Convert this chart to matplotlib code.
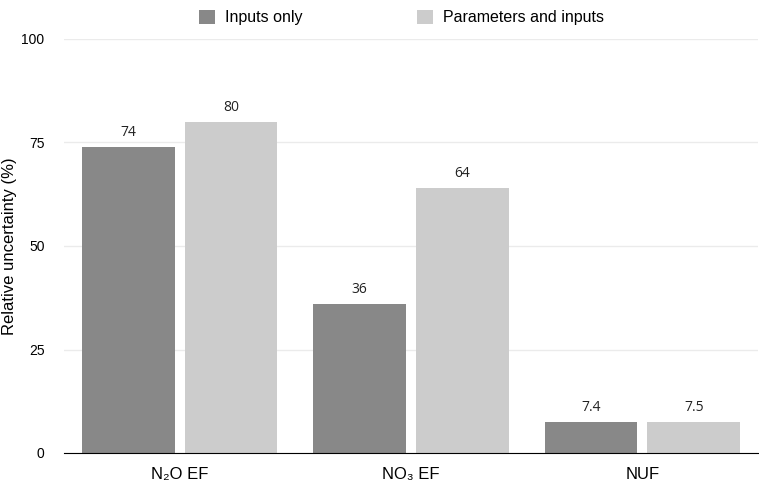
import matplotlib
matplotlib.use("Agg")
import matplotlib.pyplot as plt
import numpy as np

categories = ["N\u2082O EF", "NO\u2083 EF", "NUF"]
inputs_only = [74, 36, 7.4]
params_inputs = [80, 64, 7.5]
value_labels_a = ["74", "36", "7.4"]
value_labels_b = ["80", "64", "7.5"]

plt.rcParams["font.family"] = ["Liberation Sans", "DejaVu Sans"]

fig = plt.figure(figsize=(7.59, 4.87), dpi=100)
ax = fig.add_axes([64 / 759, 34 / 487, 694 / 759, 414 / 487])

x = np.arange(len(categories))
w = 0.4
gap = 0.022
b1 = ax.bar(x - w / 2 - gap, inputs_only, w, color="#888888", label="Inputs only", zorder=3)
b2 = ax.bar(x + w / 2 + gap, params_inputs, w, color="#cccccc", label="Parameters and inputs", zorder=3)

for bars, labels in ((b1, value_labels_a), (b2, value_labels_b)):
    for rect, lab in zip(bars, labels):
        ax.annotate(lab, (rect.get_x() + rect.get_width() / 2, rect.get_height()),
                    xytext=(0, 5), textcoords="offset points", ha="center", va="bottom",
                    fontsize=10, family=["Open Sans", "DejaVu Sans"], color="#222222")

ax.set_xlim(-0.5, 2.5)
ax.set_ylim(0, 100)
ax.set_yticks([0, 25, 50, 75, 100])
ax.set_xticks(x)
ax.set_xticklabels(categories, fontsize=12)
ax.tick_params(axis="x", length=0, pad=10)
ax.tick_params(axis="y", length=0, pad=14, labelsize=10)
ax.grid(axis="y", color="#ebebeb", linewidth=1, zorder=0)
for s in ["top", "right", "left"]:
    ax.spines[s].set_visible(False)
ax.spines["bottom"].set_color("#000000")
ax.spines["bottom"].set_zorder(4)
ax.set_ylabel("Relative uncertainty (%)", fontsize=12, labelpad=3)

fig.legend(handles=[b1, b2], loc="upper center", bbox_to_anchor=(0.529, 1.01), ncol=2,
           frameon=False, fontsize=11.5, handlelength=1.0, handleheight=1.0,
           columnspacing=7.2, handletextpad=0.6)

fig.savefig("out.png", dpi=100)
